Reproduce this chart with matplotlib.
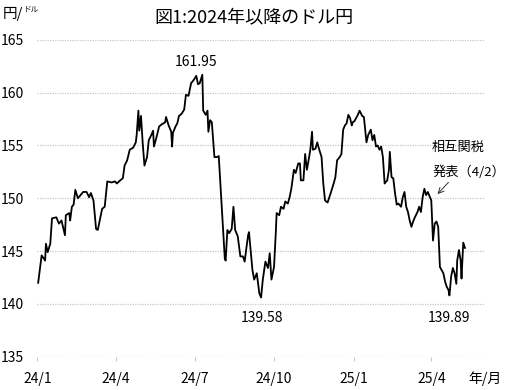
import matplotlib
matplotlib.use('Agg')
import matplotlib.pyplot as plt
import pandas as pd

plt.rcParams['font.family'] = ['Noto Sans CJK JP', 'DejaVu Sans']

# ドル円（円/ドル）、チャートから読み取り
dates = [
    '2024-01-02', '2024-01-06', '2024-01-10', '2024-01-11', '2024-01-13', '2024-01-16',
    '2024-01-18', '2024-01-23', '2024-01-26', '2024-01-29', '2024-02-02', '2024-02-03',
    '2024-02-07', '2024-02-08', '2024-02-10', '2024-02-12', '2024-02-14', '2024-02-17',
    '2024-02-20', '2024-02-23', '2024-02-27', '2024-03-01', '2024-03-03', '2024-03-06',
    '2024-03-09', '2024-03-11', '2024-03-14', '2024-03-16', '2024-03-19', '2024-03-22',
    '2024-03-27', '2024-03-31', '2024-04-02', '2024-04-06', '2024-04-09', '2024-04-11',
    '2024-04-14', '2024-04-17', '2024-04-21', '2024-04-24', '2024-04-25', '2024-04-27',
    '2024-04-28', '2024-04-30', '2024-05-02', '2024-05-04', '2024-05-07', '2024-05-09',
    '2024-05-12', '2024-05-14', '2024-05-15', '2024-05-18', '2024-05-21', '2024-05-24',
    '2024-05-28', '2024-05-29', '2024-06-01', '2024-06-04', '2024-06-05', '2024-06-06',
    '2024-06-09', '2024-06-11', '2024-06-13', '2024-06-16', '2024-06-19', '2024-06-21',
    '2024-06-24', '2024-06-27', '2024-06-30', '2024-07-03', '2024-07-05', '2024-07-07',
    '2024-07-10', '2024-07-11', '2024-07-14', '2024-07-16', '2024-07-17', '2024-07-19',
    '2024-07-21', '2024-07-24', '2024-07-27', '2024-07-29', '2024-08-01', '2024-08-03',
    '2024-08-05', '2024-08-06', '2024-08-08', '2024-08-10', '2024-08-13', '2024-08-15',
    '2024-08-17', '2024-08-20', '2024-08-23', '2024-08-26', '2024-08-28', '2024-08-30',
    '2024-09-01', '2024-09-02', '2024-09-06', '2024-09-08', '2024-09-11', '2024-09-14',
    '2024-09-16', '2024-09-18', '2024-09-21', '2024-09-24', '2024-09-26', '2024-09-28',
    '2024-10-01', '2024-10-03', '2024-10-04', '2024-10-07', '2024-10-09', '2024-10-12',
    '2024-10-14', '2024-10-17', '2024-10-19', '2024-10-21', '2024-10-24', '2024-10-26',
    '2024-10-29', '2024-10-31', '2024-11-01', '2024-11-04', '2024-11-06', '2024-11-08',
    '2024-11-10', '2024-11-12', '2024-11-14', '2024-11-15', '2024-11-18', '2024-11-20',
    '2024-11-22', '2024-11-25', '2024-11-27', '2024-11-29', '2024-12-02', '2024-12-04',
    '2024-12-06', '2024-12-09', '2024-12-11', '2024-12-13', '2024-12-16', '2024-12-18',
    '2024-12-20', '2024-12-22', '2024-12-24', '2024-12-26', '2024-12-28', '2024-12-30',
    '2024-12-31', '2025-01-02', '2025-01-04', '2025-01-06', '2025-01-08', '2025-01-11',
    '2025-01-13', '2025-01-15', '2025-01-16', '2025-01-18', '2025-01-21', '2025-01-23',
    '2025-01-25', '2025-01-27', '2025-01-29', '2025-01-31', '2025-02-02', '2025-02-04',
    '2025-02-06', '2025-02-09', '2025-02-11', '2025-02-12', '2025-02-14', '2025-02-16',
    '2025-02-18', '2025-02-20', '2025-02-22', '2025-02-25', '2025-02-27', '2025-03-01',
    '2025-03-03', '2025-03-05', '2025-03-07', '2025-03-09', '2025-03-11', '2025-03-13',
    '2025-03-16', '2025-03-18', '2025-03-20', '2025-03-22', '2025-03-24', '2025-03-26',
    '2025-03-28', '2025-03-31', '2025-04-01', '2025-04-03', '2025-04-05', '2025-04-07',
    '2025-04-09', '2025-04-11', '2025-04-13', '2025-04-15', '2025-04-17', '2025-04-19',
    '2025-04-21', '2025-04-22', '2025-04-24', '2025-04-26', '2025-04-28', '2025-04-30',
    '2025-05-01', '2025-05-03', '2025-05-05', '2025-05-06', '2025-05-08', '2025-05-10',
]
usdjpy = [
    142.0, 144.6, 144.1, 145.7, 144.9, 145.7,
    148.1, 148.2, 147.6, 147.9, 146.5, 148.4,
    148.6, 147.9, 149.2, 149.4, 150.8, 150.0,
    150.3, 150.6, 150.6, 150.1, 150.5, 149.8,
    147.1, 147.0, 148.2, 149.0, 149.2, 151.6,
    151.5, 151.6, 151.4, 151.7, 151.9, 153.1,
    153.6, 154.6, 154.8, 155.3, 156.0, 158.3,
    156.4, 157.8, 155.2, 153.1, 153.9, 155.5,
    156.0, 156.4, 154.9, 155.8, 156.8, 157.0,
    157.2, 157.7, 156.9, 156.3, 154.9, 156.2,
    156.8, 157.1, 157.8, 158.0, 158.4, 159.8,
    159.7, 160.9, 161.2, 161.6, 160.8, 160.9,
    161.7, 158.3, 157.9, 158.3, 156.3, 157.4,
    157.2, 153.9, 153.9, 154.0, 149.8, 147.0,
    144.3, 144.1, 147.0, 146.7, 147.1, 149.2,
    147.0, 146.4, 144.5, 144.5, 144.0, 145.3,
    146.5, 146.8, 143.2, 142.3, 142.9, 141.0,
    140.6, 142.3, 144.0, 143.4, 144.8, 142.3,
    143.5, 146.7, 148.6, 148.4, 149.2, 149.0,
    149.7, 149.5, 150.1, 150.9, 152.7, 152.4,
    153.3, 153.3, 151.7, 151.7, 154.2, 152.7,
    153.6, 154.6, 156.3, 154.6, 154.7, 155.3,
    154.7, 153.9, 151.4, 149.8, 149.6, 150.1,
    150.6, 151.4, 152.0, 153.6, 153.9, 154.2,
    156.5, 156.9, 157.1, 157.9, 157.6, 156.9,
    157.2, 157.3, 157.6, 157.9, 158.3, 157.8,
    157.7, 156.1, 155.3, 156.0, 156.5, 155.5,
    156.0, 154.9, 155.0, 154.6, 154.9, 153.9,
    151.4, 151.7, 152.7, 154.4, 152.0, 151.9,
    150.5, 149.4, 149.5, 149.2, 150.1, 150.6,
    149.2, 148.7, 147.9, 147.3, 147.8, 148.2,
    148.7, 149.2, 148.7, 150.1, 150.9, 150.3,
    150.6, 150.0, 149.8, 146.0, 147.6, 147.8,
    147.3, 143.5, 143.2, 142.9, 142.1, 141.6,
    141.3, 140.8, 142.6, 143.4, 142.9, 141.9,
    144.1, 145.1, 144.1, 142.4, 145.8, 145.3,
]

tick_dates = ['2024-01-01', '2024-04-01', '2024-07-01', '2024-10-01', '2025-01-01', '2025-04-01']
tick_labels = ['24/1', '24/4', '24/7', '24/10', '25/1', '25/4']
y_ticks = [135, 140, 145, 150, 155, 160, 165]

# 注記（高値・安値）
note_values = [161.95, 139.58, 139.89]
note_dates = ['2024-07-03', '2024-09-17', '2025-04-21']
note_y = [162.9, 138.7, 138.7]

x = pd.to_datetime(dates)

fig = plt.figure(figsize=(5.07, 3.90), dpi=100)
ax = fig.add_axes([0.0736, 0.0854, 0.881, 0.8123])

ax.plot(x, usdjpy, color='black', linewidth=1.3)

ax.set_ylim(135, 165)
ax.set_xlim(pd.Timestamp('2024-01-01'), pd.Timestamp('2025-06-01'))
ax.set_yticks(y_ticks)
ax.set_yticklabels([str(v) for v in y_ticks], fontsize=10)
ax.set_xticks(pd.to_datetime(tick_dates))
ax.set_xticklabels(tick_labels, fontsize=10)
ax.tick_params(axis='y', length=0, pad=9.5)
ax.tick_params(axis='x', length=3, color='#c8c8c8', pad=8, direction='out')

for s in ax.spines.values():
    s.set_visible(False)
ax.yaxis.grid(True, color='#c8c8c8', linestyle=(0, (1, 1)), linewidth=0.9)
ax.set_axisbelow(True)

for v, d, yy in zip(note_values, note_dates, note_y):
    ax.text(pd.Timestamp(d), yy, f'{v:.2f}', ha='center', va='center', fontsize=10)

ax.text(pd.Timestamp('2025-04-02'), 154.8, '相互関税', ha='left', va='center', fontsize=9.5)
ax.text(pd.Timestamp('2025-04-02'), 152.5, '発表（4/2）', ha='left', va='center', fontsize=9.5)
ax.annotate('', xy=(pd.Timestamp('2025-04-06'), 150.2),
            xytext=(pd.Timestamp('2025-04-23'), 151.7),
            arrowprops=dict(arrowstyle='->', color='#333333', lw=0.7))

fig.text(0.5, 0.955, '図1:2024年以降のドル円', ha='center', va='center', fontsize=13)
fig.text(0.006, 0.965, '円/', ha='left', va='center', fontsize=10.5)
fig.text(0.047, 0.975, 'ドル', ha='left', va='center', fontsize=5.5)
fig.text(0.957, 0.03, '年/月', ha='center', va='center', fontsize=10)

fig.savefig('out.png', dpi=100)
